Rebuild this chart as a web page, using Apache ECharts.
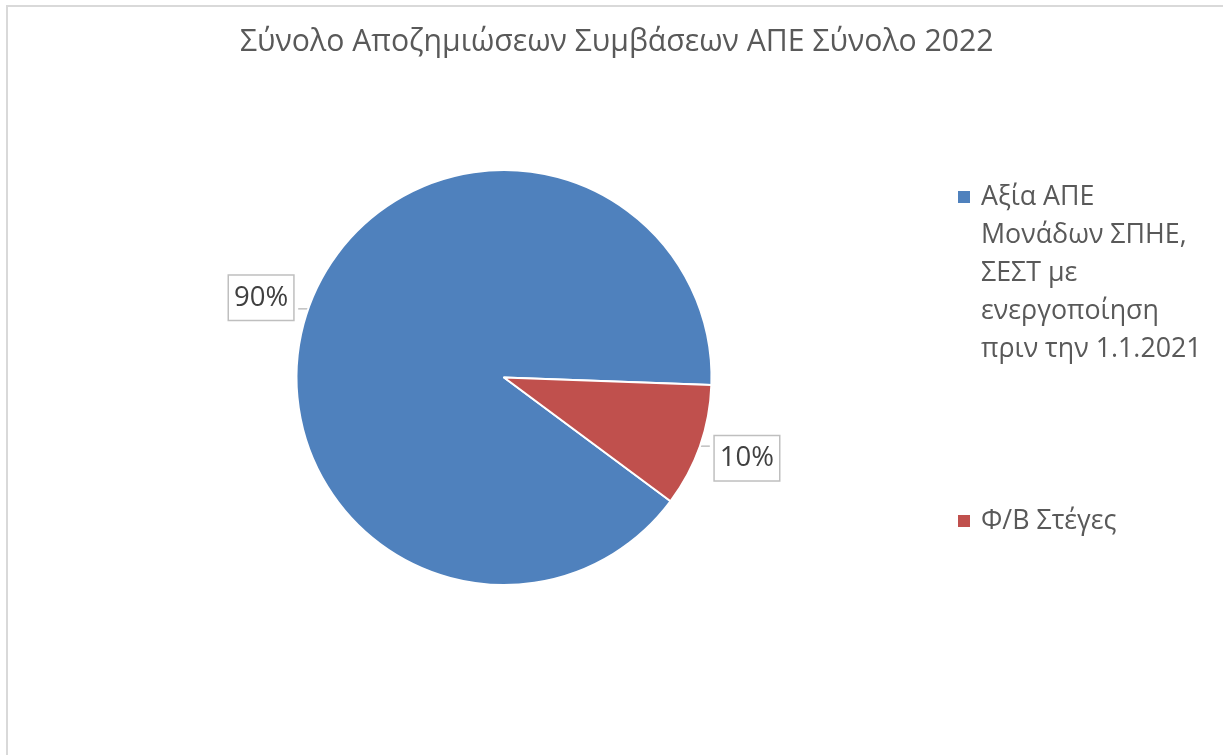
<!DOCTYPE html>
<html>
<head>
<meta charset="utf-8">
<script src="https://cdn.jsdelivr.net/npm/echarts@6/dist/echarts.min.js"></script>
<style>
html,body{margin:0;padding:0;background:#fff;}
#chart{width:1223px;height:755px;}
</style>
</head>
<body>
<div id="chart"></div>
<script>
const titleText = 'Σύνολο Αποζημιώσεων Συμβάσεων ΑΠΕ Σύνολο 2022';
const categories = ['Αξία ΑΠΕ\nΜονάδων ΣΠΗΕ,\nΣΕΣΤ με\nενεργοποίηση\nπριν την 1.1.2021', 'Φ/Β Στέγες'];
const values = [90.4, 9.6];
const colors = ['#4F81BD', '#C0504D'];

const FONT = "'Open Sans', 'Noto Sans', sans-serif";
const LEG_FS = 26.8;
const chart = echarts.init(document.getElementById('chart'), null, {renderer: 'canvas'});
chart.setOption({
  backgroundColor: '#ffffff',
  animation: false,
  color: colors,
  title: {
    text: titleText,
    left: 235,
    top: 22,
    textStyle: {fontFamily: FONT, fontSize: 30.2, fontWeight: 'normal', color: '#595959'}
  },
  graphic: [{
    type: 'rect',
    shape: {x: 7, y: 6, width: 1400, height: 900},
    style: {fill: 'none', stroke: '#d9d9d9', lineWidth: 2},
    silent: true
  }],
  legend: {
    orient: 'vertical',
    left: 948,
    top: 173,
    icon: 'none',
    itemWidth: 0,
    itemHeight: 12,
    itemGap: 134,
    formatter: function (name) {
      const i = categories.indexOf(name);
      return name.split('\n').map((l, k) => (k === 0 ? '{m' + i + '|}' : '{sp|}') + '{t|' + l + '}').join('\n');
    },
    textStyle: {
      fontFamily: FONT, fontSize: LEG_FS, color: '#595959', lineHeight: 38,
      rich: {
        m0: {width: 12, height: 12, backgroundColor: colors[0], lineHeight: 38},
        m1: {width: 12, height: 12, backgroundColor: colors[1], lineHeight: 38},
        sp: {width: 12, lineHeight: 38},
        t: {fontFamily: FONT, fontSize: LEG_FS, color: '#595959', lineHeight: 38, padding: [0, 0, 0, 11]}
      }
    },
    data: categories
  },
  series: [{
    type: 'pie',
    center: [504, 377.5],
    radius: [0, 207.5],
    startAngle: 323.4,
    clockwise: true,
    avoidLabelOverlap: false,
    percentPrecision: 0,
    itemStyle: {borderColor: '#ffffff', borderWidth: 2},
    label: {
      show: true,
      position: 'outside',
      formatter: '{d}%',
      fontFamily: FONT,
      fontSize: 27.5,
      lineHeight: 30,
      color: '#404040',
      backgroundColor: '#ffffff',
      borderColor: '#bfbfbf',
      borderWidth: 1.5,
      padding: [7, 5, 7, 5]
    },
    labelLine: {show: true, length: 0, length2: 10, lineStyle: {color: '#bfbfbf', width: 1.5}},
    labelLayout: function (p) { return {dy: p.dataIndex === 0 ? -11 : 12}; },
    data: categories.map((c, i) => ({name: c, value: values[i]}))
  }]
});
</script>
</body>
</html>
